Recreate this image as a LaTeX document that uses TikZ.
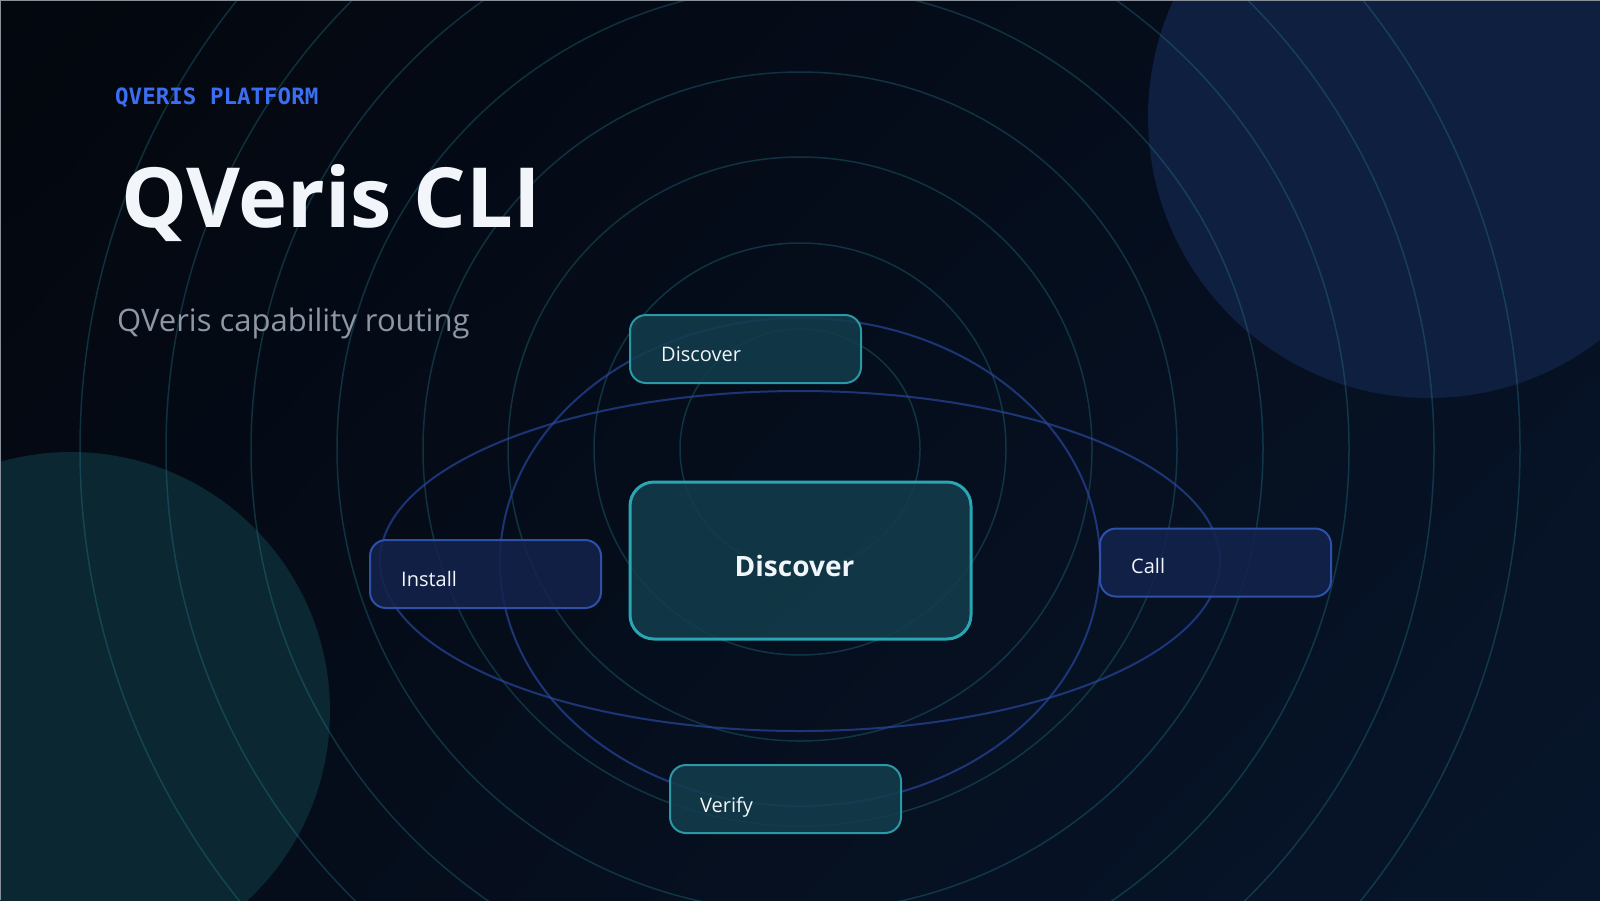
\documentclass[tikz,border=0pt]{standalone}
\usepackage{fontspec}
\setmainfont{Open Sans}
\newfontfamily\monofont{DejaVu Sans Mono}
\usetikzlibrary{positioning,shadings}
\definecolor{qvFondA}{HTML}{03070E}
\definecolor{qvFondB}{HTML}{060F20}
\definecolor{qvFondC}{HTML}{050B17}
\definecolor{qvFondD}{HTML}{07162B}
\definecolor{qvCadre}{HTML}{8A9099}
\definecolor{qvBulleBleu}{HTML}{0F1F3F}
\definecolor{qvBulleVert}{HTML}{0B2731}
\definecolor{qvAnneau}{HTML}{2A8CA2}
\definecolor{qvOrbite}{HTML}{2B4AA6}
\definecolor{qvTeal}{HTML}{2C98A6}
\definecolor{qvTealFort}{HTML}{2AA6B2}
\definecolor{qvTealFond}{HTML}{133D4C}
\definecolor{qvBleu}{HTML}{2D50A8}
\definecolor{qvBleuFond}{HTML}{14234D}
\definecolor{qvTexte}{HTML}{F2F5FA}
\definecolor{qvGris}{HTML}{8E97A6}
\definecolor{qvPlateforme}{HTML}{3B6EF2}

\begin{document}
\begin{tikzpicture}[
  x=1pt, y=-1pt,
  anneau/.style={draw=qvAnneau, line width=1.5pt, draw opacity=0.3},
  orbite/.style={draw=qvOrbite, line width=2pt, draw opacity=0.65},
  tb/.style={draw=qvTeal, line width=2pt, fill=qvTealFond, fill opacity=0.85,
             rounded corners=16pt, minimum width=231pt, minimum height=68pt, inner sep=0pt},
  bb/.style={draw=qvBleu, line width=2pt, fill=qvBleuFond, fill opacity=0.85,
             rounded corners=16pt, minimum width=231pt, minimum height=68pt, inner sep=0pt},
  lbl/.style={text=qvTexte, anchor=base west, inner sep=0pt, font=\fontsize{20}{24}\selectfont}
]

\useasboundingbox (0,0) rectangle (1600,900);
\clip (0,0) rectangle (1600,900);
\shade[upper left=qvFondA, upper right=qvFondB, lower left=qvFondC, lower right=qvFondD]
  (0,0) rectangle (1600,900);

% decor
\fill[qvBulleBleu] (1429,117) circle[radius=281pt];
\fill[qvBulleVert] (71,711) circle[radius=259pt];
\foreach \r in {120,206,292,377,463,549,634,720}
  \draw[anneau] (800,449) circle[radius=\r pt];
\draw[orbite] (800,561) ellipse[x radius=420pt, y radius=170pt];
\draw[orbite] (800,562) ellipse[x radius=300pt, y radius=244pt];
\draw[qvCadre, line width=2pt] (0,900) -- (0,0) -- (1600,0);

% header
\node[anchor=base west, inner sep=0pt, text=qvPlateforme,
      font=\monofont\bfseries\fontsize{22.5}{26}\selectfont] (plateforme) at (115,104) {QVERIS PLATFORM};
\node[anchor=base west, inner sep=0pt, text=qvTexte,
      font=\bfseries\fontsize{83}{96}\selectfont] (titre) at (121,227) {QVeris CLI};
\node[anchor=base west, inner sep=0pt, text=qvGris,
      font=\fontsize{31}{36}\selectfont] (soustitre) at (117,331) {QVeris capability routing};

% boxes
\node[tb] (haut)   at (745.5,349) {};
\node[bb] (install) at (485.5,574) {};
\node[bb] (call)   at (1215.5,562.5) {};
\node[tb] (verify) at (785.5,799) {};
\node[tb, draw=qvTealFort, line width=3pt, rounded corners=24pt,
      minimum width=341pt, minimum height=157pt] (centre) at (800.5,560.5) {};

\node[lbl] (hautT)    at (661,361)  {Discover};
\node[lbl] (installT) at (401,586)  {Install};
\node[lbl] (callT)    at (1131,573) {Call};
\node[lbl] (verifyT)  at (700,812)  {Verify};
\node[text=qvTexte, anchor=base, inner sep=0pt,
      font=\bfseries\fontsize{28}{32}\selectfont] (centreT) at (794.5,576) {Discover};

\end{tikzpicture}
\end{document}
